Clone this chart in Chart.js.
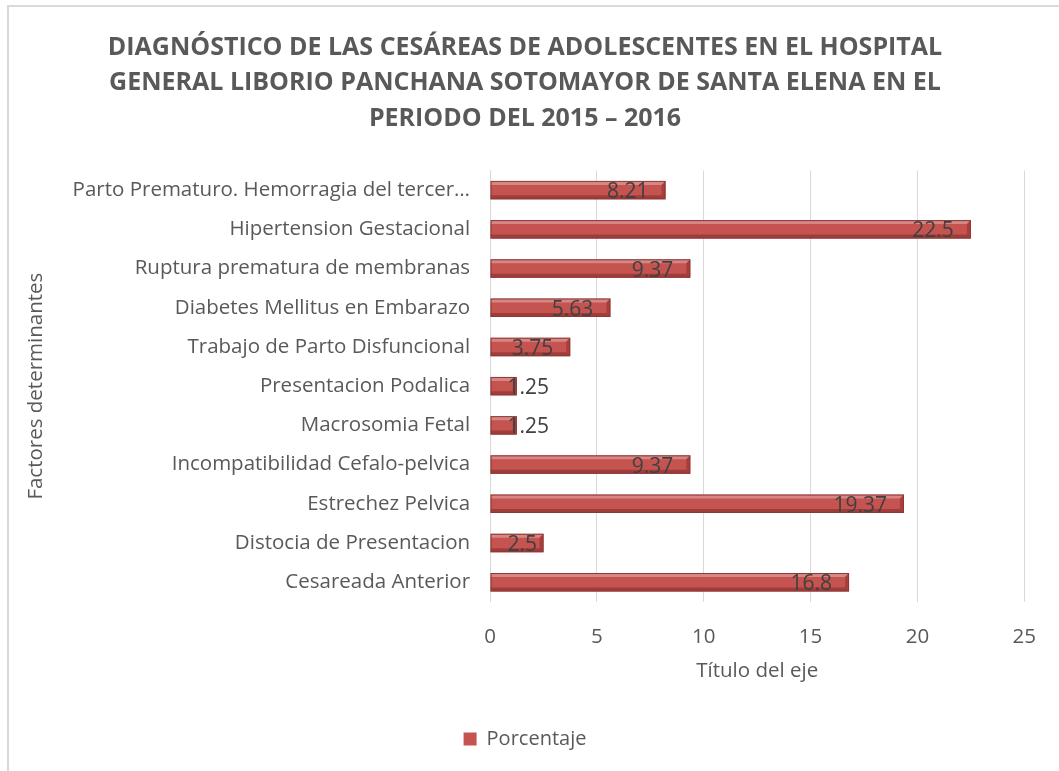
<!DOCTYPE html>
<html>
<head>
<meta charset="utf-8">
<script src="https://cdn.jsdelivr.net/npm/chart.js@4.4.1/dist/chart.umd.min.js"></script>
<style>
  html, body { margin: 0; padding: 0; background: #fff; }
  #wrap { position: relative; width: 1059px; height: 771px; }
</style>
</head>
<body>
<div id="wrap"><canvas id="myChart" width="1059" height="771"></canvas></div>
<script>
const categorias = [
    'Parto Prematuro. Hemorragia del tercer…',
    'Hipertension Gestacional',
    'Ruptura prematura de membranas',
    'Diabetes Mellitus en Embarazo',
    'Trabajo de Parto Disfuncional',
    'Presentacion Podalica',
    'Macrosomia Fetal',
    'Incompatibilidad Cefalo-pelvica',
    'Estrechez Pelvica',
    'Distocia de Presentacion',
    'Cesareada Anterior'
];
const porcentajes = [8.21, 22.5, 9.37, 5.63, 3.75, 1.25, 1.25, 9.37, 19.37, 2.5, 16.8];
const tituloLineas = [
    'DIAGNÓSTICO DE LAS CESÁREAS DE ADOLESCENTES EN EL HOSPITAL',
    'GENERAL LIBORIO PANCHANA SOTOMAYOR DE SANTA ELENA EN EL',
    'PERIODO DEL 2015 – 2016'
];

const FONT = "'Open Sans', sans-serif";
const GRIS = '#595959';
const ROJO = '#c55350';

// borde del área del gráfico (solo izquierda y arriba se ven)
const bordePlugin = {
    id: 'borde',
    beforeDraw(chart) {
        const c = chart.ctx;
        c.save();
        c.strokeStyle = '#d9d9d9';
        c.lineWidth = 2;
        c.beginPath();
        c.moveTo(8, 771);
        c.lineTo(8, 6);
        c.lineTo(1059, 6);
        c.stroke();
        c.restore();
    }
};

// efecto biselado de las barras + etiquetas de datos
const barrasPlugin = {
    id: 'barras3d',
    afterDatasetsDraw(chart) {
        const c = chart.ctx;
        const meta = chart.getDatasetMeta(0);
        c.save();
        meta.data.forEach((bar, i) => {
            const x0 = bar.base, x1 = bar.x;
            const h = bar.height;
            const y0 = bar.y - h / 2, y1 = bar.y + h / 2;
            const w = x1 - x0;
            const b = 4;
            // brillo superior
            c.fillStyle = 'rgba(255,255,255,0.3)';
            c.beginPath();
            c.moveTo(x0, y0); c.lineTo(x1, y0); c.lineTo(x1 - b, y0 + b); c.lineTo(x0, y0 + b);
            c.closePath(); c.fill();
            // sombra inferior
            c.fillStyle = 'rgba(90,20,20,0.35)';
            c.beginPath();
            c.moveTo(x0, y1); c.lineTo(x1, y1); c.lineTo(x1 - b, y1 - b); c.lineTo(x0, y1 - b);
            c.closePath(); c.fill();
            // extremo derecho
            c.fillStyle = 'rgba(110,25,25,0.35)';
            c.beginPath();
            c.moveTo(x1, y0); c.lineTo(x1, y1); c.lineTo(x1 - b, y1 - b); c.lineTo(x1 - b, y0 + b);
            c.closePath(); c.fill();
            // borde
            c.strokeStyle = '#8c3836';
            c.lineWidth = 1;
            c.strokeRect(x0 + 0.5, y0 + 0.5, w - 1, h - 1);

            // etiqueta
            const txt = String(porcentajes[i]);
            c.font = "21px " + FONT;
            c.fillStyle = '#404040';
            c.textBaseline = 'middle';
            const tw = c.measureText(txt).width;
            let tx = x1 - 17 - tw;
            if (tx < x0 + 17) tx = x0 + 17;
            c.textAlign = 'left';
            c.fillText(txt, tx, bar.y + 2);
        });
        c.restore();
    }
};

new Chart(document.getElementById('myChart'), {
    type: 'bar',
    data: {
        labels: categorias,
        datasets: [{
            label: 'Porcentaje',
            data: porcentajes,
            backgroundColor: ROJO,
            borderWidth: 0,
            barPercentage: 0.47,
            categoryPercentage: 1
        }]
    },
    options: {
        indexAxis: 'y',
        responsive: false,
        animation: false,
        layout: { padding: { top: 30, right: 33, bottom: 12, left: 24 } },
        plugins: {
            title: {
                display: true,
                text: tituloLineas,
                color: GRIS,
                font: { family: FONT, size: 25, weight: 'bold', lineHeight: 1.42 },
                padding: { top: 0, bottom: 34 }
            },
            legend: {
                position: 'bottom',
                labels: {
                    color: GRIS,
                    font: { family: FONT, size: 20 },
                    boxWidth: 13,
                    boxHeight: 13,
                    padding: 8
                }
            },
            tooltip: { enabled: false }
        },
        scales: {
            x: {
                min: 0,
                max: 25,
                ticks: {
                    stepSize: 5,
                    color: GRIS,
                    font: { family: FONT, size: 20.5 },
                    padding: 23
                },
                grid: {
                    color: '#d9d9d9',
                    drawTicks: false
                },
                border: { display: false },
                title: {
                    display: true,
                    text: 'Título del eje',
                    color: GRIS,
                    font: { family: FONT, size: 20.5 },
                    padding: { top: -14, bottom: 38 }
                }
            },
            y: {
                ticks: {
                    color: GRIS,
                    font: { family: FONT, size: 20.5 },
                    padding: 20
                },
                grid: { display: false, drawTicks: false },
                border: { display: true, color: '#d9d9d9', width: 1 },
                title: {
                    display: true,
                    text: 'Factores determinantes',
                    color: GRIS,
                    font: { family: FONT, size: 20.5 },
                    padding: { top: 0, bottom: 4 }
                }
            }
        }
    },
    plugins: [bordePlugin, barrasPlugin]
});
</script>
</body>
</html>
